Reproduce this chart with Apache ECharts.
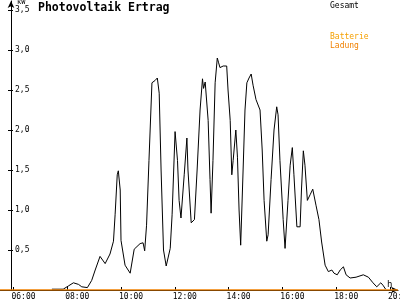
<!DOCTYPE html>
<html>
<head>
<meta charset="utf-8">
<script src="https://cdn.jsdelivr.net/npm/echarts@6/dist/echarts.min.js"></script>
<style>html,body{margin:0;padding:0;background:#fff}#c{width:400px;height:300px}</style>
</head>
<body>
<div id="c"></div>
<script>
// Time of day (decimal hours) and power output (kW) of "Gesamt"
const gesamtTimes = [7.43,7.85,8.04,8.23,8.42,8.54,8.75,8.91,9.04,9.22,9.41,9.59,9.72,9.78,9.86,9.90,9.97,10.00,10.15,10.34,10.49,10.56,10.71,10.82,10.88,10.95,11.04,11.15,11.19,11.27,11.35,11.42,11.49,11.58,11.68,11.83,11.90,12.01,12.10,12.16,12.23,12.35,12.45,12.49,12.61,12.73,12.83,12.94,13.03,13.07,13.13,13.19,13.24,13.31,13.35,13.42,13.50,13.58,13.63,13.68,13.80,13.93,13.98,14.06,14.12,14.17,14.27,14.33,14.39,14.45,14.54,14.61,14.68,14.76,14.84,14.91,15.02,15.17,15.25,15.32,15.42,15.47,15.58,15.69,15.79,15.84,15.91,16.03,16.10,16.21,16.29,16.37,16.43,16.54,16.66,16.71,16.78,16.84,16.93,17.03,17.13,17.25,17.36,17.46,17.59,17.71,17.84,17.92,18.04,18.15,18.27,18.37,18.52,18.74,19.01,19.20,19.37,19.51,19.66,19.74,19.84];
const gesamtValues = [0.01,0.01,0.05,0.09,0.07,0.04,0.03,0.12,0.25,0.42,0.33,0.45,0.61,0.94,1.44,1.49,1.25,0.62,0.31,0.21,0.51,0.50,0.58,0.59,0.49,0.81,1.62,2.59,2.60,2.62,2.65,2.46,1.50,0.50,0.30,0.52,0.94,1.98,1.62,1.12,0.90,1.44,1.90,1.50,0.84,0.88,1.50,2.25,2.64,2.52,2.60,2.62,2.12,1.38,0.96,1.62,2.59,2.90,2.84,2.78,2.80,2.80,2.50,2.12,1.44,1.62,2.00,1.66,1.00,0.56,1.50,2.25,2.59,2.65,2.70,2.56,2.38,2.25,1.75,1.12,0.61,0.69,1.38,2.00,2.29,2.19,1.62,0.88,0.52,1.12,1.56,1.78,1.44,0.79,0.79,1.25,1.74,1.56,1.12,1.19,1.26,1.06,0.88,0.60,0.31,0.23,0.25,0.21,0.19,0.25,0.29,0.19,0.15,0.16,0.19,0.16,0.09,0.04,0.09,0.06,0.01];
// Battery charging series (zero all day)
const ladungTimes = [5.5, 20.3];
const ladungValues = [0, 0];
// Tick labels
const hourTicks = [6, 8, 10, 12, 14, 16, 18, 20];
const kwTicks = [0.5, 1.0, 1.5, 2.0, 2.5, 3.0, 3.5];

const chart = echarts.init(document.getElementById('c'), null, {renderer: 'canvas'});
const mono = 'DejaVu Sans Mono';
const pad = h => (h < 10 ? '0' : '') + h + ':00';

chart.setOption({
  animation: false,
  backgroundColor: '#ffffff',
  title: {
    text: 'Photovoltaik Ertrag', left: 38, top: 2, padding: 0,
    textStyle: {fontFamily: mono, fontWeight: 'bold', fontSize: 11.5, color: '#000'}
  },
  legend: [
    {data: ['Gesamt'], left: 325, top: 2, padding: 0, icon: 'none', itemWidth: 0, itemHeight: 0,
     textStyle: {fontFamily: mono, fontSize: 8, color: '#000'}},
    {data: ['Batterie Ladung'], left: 325, top: 32, padding: 0, icon: 'none', itemWidth: 0, itemHeight: 0,
     formatter: () => '{a|Batterie}\n{b|Ladung}',
     textStyle: {fontFamily: mono, fontSize: 8, lineHeight: 9,
       rich: {a: {color: '#f5a000', fontFamily: mono, fontSize: 8, lineHeight: 9},
              b: {color: '#f08000', fontFamily: mono, fontSize: 8, lineHeight: 9}}}}
  ],
  grid: {left: 0, right: 2, top: 1, bottom: 10, containLabel: false, outerBoundsMode: 'none'},
  xAxis: {
    type: 'value', min: 5.5, max: 20.3,
    name: 'h', nameLocation: 'end', nameGap: -11,
    nameTextStyle: {fontFamily: mono, fontSize: 9, color: '#000', align: 'left', verticalAlign: 'bottom', padding: [0, 0, 1, 0]},
    splitLine: {show: false},
    axisLine: {onZero: false, lineStyle: {color: '#000', width: 1}, symbol: ['none', 'arrow'], symbolSize: [5, 7]},
    axisTick: {show: true, inside: true, length: 3, customValues: hourTicks, lineStyle: {color: '#000'}},
    axisLabel: {customValues: hourTicks, formatter: v => pad(Math.round(v)), align: 'left', padding: [0, 0, 0, -2],
      margin: 3, fontFamily: mono, fontSize: 8, color: '#000'}
  },
  yAxis: [{
    type: 'value', min: 0, max: 3.6125, offset: -11,
    name: 'kW', nameLocation: 'end', nameGap: 0,
    nameTextStyle: {fontFamily: mono, fontSize: 7, color: '#000', align: 'left', verticalAlign: 'top', padding: [0, 0, 0, 6]},
    splitLine: {show: false},
    axisLine: {show: true, lineStyle: {color: '#000', width: 1}, symbol: ['none', 'arrow'], symbolSize: [5, 7]},
    axisTick: {show: true, length: 3, customValues: kwTicks, lineStyle: {color: '#000'}},
    axisLabel: {customValues: kwTicks, inside: true, margin: 4, formatter: v => v.toFixed(1).replace('.', ','),
      fontFamily: mono, fontSize: 8, color: '#000'}
  }, {
    type: 'value', min: 0, max: 3.6125, offset: -11, position: 'left',
    splitLine: {show: false}, axisLine: {show: false}, axisLabel: {show: false},
    axisTick: {show: true, inside: true, length: 2, customValues: kwTicks, lineStyle: {color: '#000'}}
  }],
  series: [
    {name: 'Batterie Ladung', type: 'line', showSymbol: false, symbol: 'none',
     lineStyle: {color: '#f08000', width: 1.5}, itemStyle: {color: '#f08000'},
     data: ladungTimes.map((t, i) => [t, ladungValues[i]]), z: 3},
    {name: 'Gesamt', type: 'line', showSymbol: false, symbol: 'none',
     lineStyle: {color: '#000', width: 1}, itemStyle: {color: '#000'},
     data: gesamtTimes.map((t, i) => [t, gesamtValues[i]]), z: 2}
  ]
});
</script>
</body>
</html>
